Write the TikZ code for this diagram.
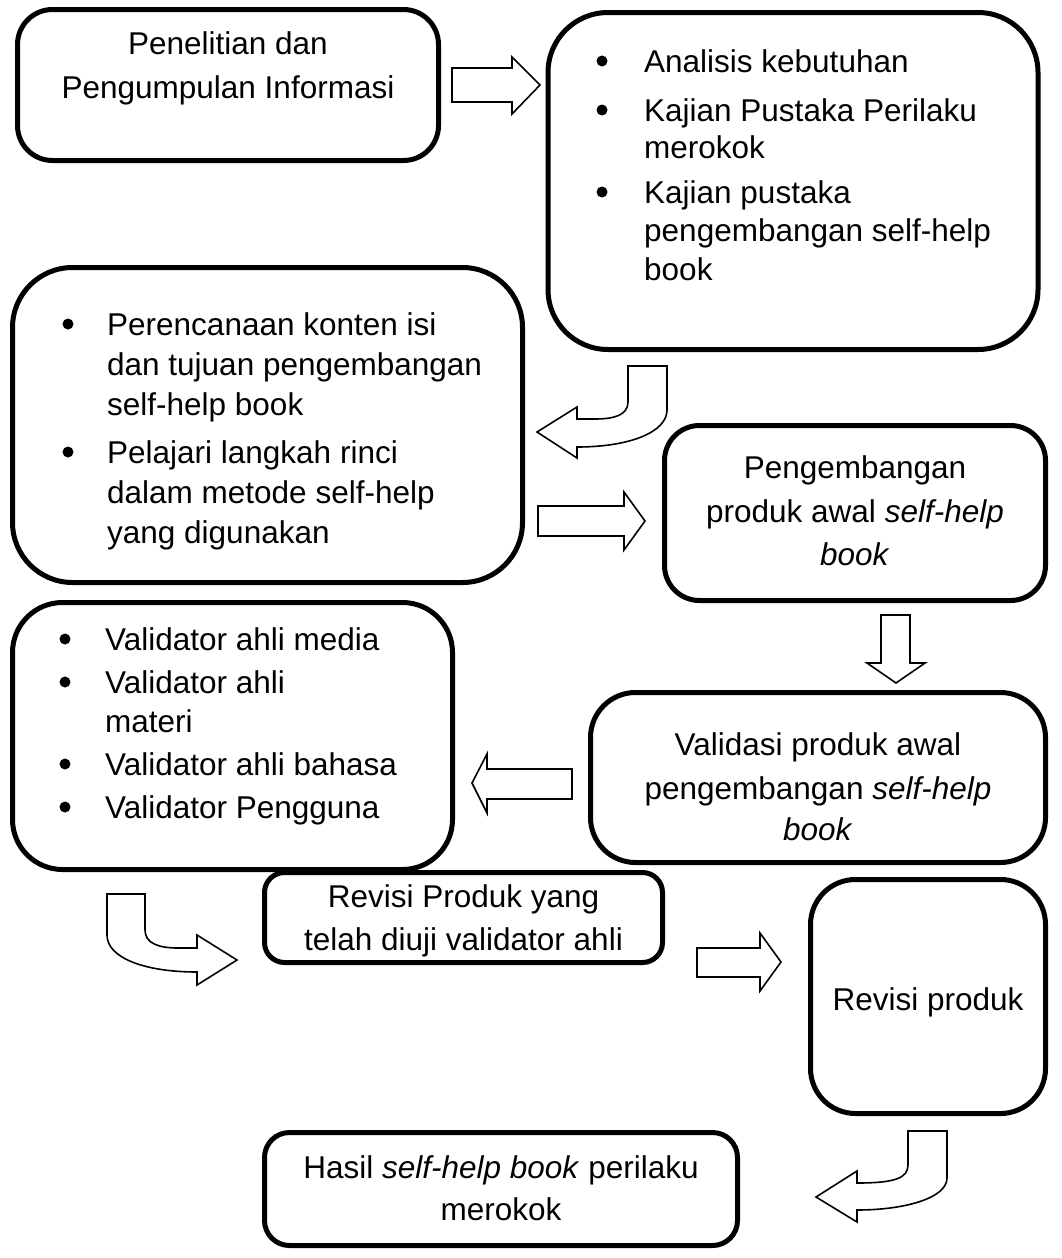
\documentclass[tikz,border=0pt]{standalone}
\usepackage{fontspec}
\setmainfont{Liberation Sans}
\begin{document}
\begin{tikzpicture}[x=1pt,y=-1pt,
  box/.style={draw=black,line width=5pt,rectangle,fill=white,inner sep=0pt},
  txt/.style={font=\fontsize{31.5}{38}\selectfont,inner sep=0pt,anchor=base},
  ltxt/.style={font=\fontsize{31.5}{38}\selectfont,inner sep=0pt,anchor=base west},
  bul/.style={circle,fill=black,inner sep=0pt,minimum size=11pt},
  barrow/.style={draw=black,line width=1.6pt,fill=white,line join=miter}]
\useasboundingbox (0,0) rectangle (1061,1258);
\fill[white] (0,0) rectangle (1061,1258);

% boxes
\node[box,minimum width=421pt,minimum height=151pt,rounded corners=35pt] (b1) at (228,85) {};
\node[box,minimum width=490pt,minimum height=337pt,rounded corners=60pt] (b2) at (793,181) {};
\node[box,minimum width=510pt,minimum height=315pt,rounded corners=60pt] (b3) at (267.5,425) {};
\node[box,minimum width=381pt,minimum height=175pt,rounded corners=35pt] (b4) at (855,513) {};
\node[box,minimum width=440pt,minimum height=267pt,rounded corners=50pt] (b5) at (232.5,736) {};
\node[box,minimum width=455pt,minimum height=170pt,rounded corners=45pt] (b6) at (818,777.5) {};
\node[box,minimum width=398pt,minimum height=90pt,rounded corners=20pt] (b7) at (463.5,917.5) {};
\node[box,minimum width=235pt,minimum height=234pt,rounded corners=45pt] (b8) at (928,996.5) {};
\node[box,minimum width=473pt,minimum height=113pt,rounded corners=25pt] (b9) at (501,1189) {};

% box 1 text
\node[txt] (t1a) at (228,54) {Penelitian dan};
\node[txt] (t1b) at (228,98) {Pengumpulan Informasi};

% box 2 list
\node[bul] (p2a) at (602,61) {};
\node[ltxt] (t2a) at (644,72) {Analisis kebutuhan};
\node[bul] (p2b) at (602,110) {};
\node[ltxt] (t2b) at (644,121) {Kajian Pustaka Perilaku};
\node[ltxt] (t2c) at (644,158) {merokok};
\node[bul] (p2d) at (602,192) {};
\node[ltxt] (t2d) at (644,203) {Kajian pustaka};
\node[ltxt] (t2e) at (644,241) {pengembangan self-help};
\node[ltxt] (t2f) at (644,280) {book};

% box 3 list
\node[bul] (p3a) at (68,324) {};
\node[ltxt] (t3a) at (107,335) {Perencanaan konten isi};
\node[ltxt] (t3b) at (107,375) {dan tujuan pengembangan};
\node[ltxt] (t3c) at (107,415) {self-help book};
\node[bul] (p3d) at (68,452) {};
\node[ltxt] (t3d) at (107,463) {Pelajari langkah rinci};
\node[ltxt] (t3e) at (107,503) {dalam metode self-help};
\node[ltxt] (t3f) at (107,543) {yang digunakan};

% box 4 text
\node[txt] (t4a) at (855,478) {Pengembangan};
\node[txt] (t4b) at (855,522) {produk awal \textit{self-help}};
\node[txt] (t4c) at (855,565) {\textit{book}};

% box 5 list
\node[bul] (p5a) at (65,639) {};
\node[ltxt] (t5a) at (105,650) {Validator ahli media};
\node[bul] (p5b) at (65,682) {};
\node[ltxt] (t5b) at (105,693) {Validator ahli};
\node[ltxt] (t5c) at (105,732) {materi};
\node[bul] (p5d) at (65,764) {};
\node[ltxt] (t5d) at (105,775) {Validator ahli bahasa};
\node[bul] (p5e) at (65,807) {};
\node[ltxt] (t5e) at (105,818) {Validator Pengguna};

% box 6 text
\node[txt] (t6a) at (818,755) {Validasi produk awal};
\node[txt] (t6b) at (818,799) {pengembangan \textit{self-help}};
\node[txt] (t6c) at (818,840) {\textit{book}};

% box 7 text
\node[txt] (t7a) at (463.5,907) {Revisi Produk yang};
\node[txt] (t7b) at (463.5,950) {telah diuji validator ahli};

% box 8 text
\node[txt] (t8a) at (928,1010) {Revisi produk};

% box 9 text
\node[txt] (t9a) at (501,1178) {Hasil \textit{self-help book} perilaku};
\node[txt] (t9b) at (501,1220) {merokok};

% block arrows
\draw[barrow] (452,68) -- (512,68) -- (512,57) -- (540,85) -- (512,114) -- (512,102) -- (452,102) -- cycle;
\draw[barrow] (628,366) -- (628,402) .. controls (628,416) and (612,419) .. (595,419) -- (577,419) -- (577,407) -- (537,432) -- (577,458) -- (577,447) .. controls (630,447) and (667,432) .. (667,410) -- (667,366) -- cycle;
\draw[barrow] (538,506) -- (624,506) -- (624,492) -- (645,521) -- (624,550) -- (624,536) -- (538,536) -- cycle;
\draw[barrow] (881,615) -- (910,615) -- (910,663) -- (925,663) -- (896,683) -- (867,663) -- (881,663) -- cycle;
\draw[barrow] (572,769) -- (487,769) -- (487,754) -- (472,783) -- (487,813) -- (487,799) -- (572,799) -- cycle;
\draw[barrow] (107,894) -- (145,894) -- (145,930) .. controls (145,944) and (160,948) .. (178,948) -- (197,948) -- (197,935) -- (237,960) -- (197,985) -- (197,972) .. controls (145,972) and (107,958) .. (107,935) -- cycle;
\draw[barrow] (697,948) -- (760,948) -- (760,933) -- (781,962) -- (760,991) -- (760,977) -- (697,977) -- cycle;
\draw[barrow] (908,1131) -- (947,1131) -- (947,1178) .. controls (947,1198) and (905,1210) .. (857,1210) -- (857,1222) -- (816,1197) -- (857,1171) -- (857,1183) .. controls (895,1183) and (908,1178) .. (908,1165) -- cycle;
\end{tikzpicture}
\end{document}
